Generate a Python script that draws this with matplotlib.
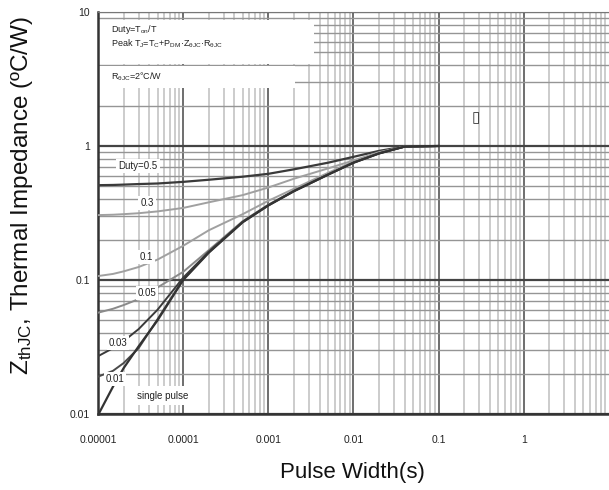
import matplotlib
matplotlib.use("Agg")
import matplotlib.pyplot as plt
from matplotlib.patches import Rectangle
from matplotlib.ticker import LogLocator, FixedLocator, NullFormatter

plt.rcParams['font.family'] = ['Liberation Sans', 'DejaVu Sans']
plt.rcParams['mathtext.fontset'] = 'custom'
plt.rcParams['mathtext.rm'] = 'Liberation Sans'
plt.rcParams['mathtext.it'] = 'Liberation Sans'
plt.rcParams['mathtext.default'] = 'rm'

# pulse width (s)
pulse = [1e-5, 1.5e-5, 2e-5, 3e-5, 5e-5, 1e-4, 2e-4, 5e-4, 1e-3, 2e-3, 5e-3, 1e-2, 2e-2, 4e-2, 1e-1]

# Zth (C/W) per duty cycle
z_d05 = [0.51, 0.512, 0.515, 0.52, 0.525, 0.54, 0.56, 0.59, 0.62, 0.67, 0.75, 0.83, 0.92, 0.99, 1.0]
z_d03 = [0.305, 0.307, 0.31, 0.315, 0.325, 0.345, 0.38, 0.43, 0.49, 0.57, 0.68, 0.78, 0.90, 0.99, 1.0]
z_d01 = [0.107, 0.111, 0.116, 0.125, 0.142, 0.18, 0.235, 0.31, 0.39, 0.48, 0.63, 0.765, 0.89, 0.99, 1.0]
z_d005 = [0.057, 0.061, 0.065, 0.072, 0.088, 0.115, 0.167, 0.275, 0.365, 0.465, 0.615, 0.755, 0.885, 0.99, 1.0]
z_d003 = [0.027, 0.031, 0.035, 0.043, 0.060, 0.104, 0.163, 0.272, 0.362, 0.462, 0.612, 0.752, 0.882, 0.99, 1.0]
z_d001 = [0.019, 0.021, 0.024, 0.031, 0.051, 0.101, 0.161, 0.27, 0.36, 0.46, 0.61, 0.75, 0.88, 0.99, 1.0]
z_single = [0.0098, 0.016, 0.022, 0.032, 0.05, 0.10, 0.16, 0.27, 0.36, 0.46, 0.61, 0.75, 0.88, 0.99, 1.0]

x_ticks = [1e-5, 1e-4, 1e-3, 1e-2, 1e-1, 1]
x_ticklabels = ['0.00001', '0.0001', '0.001', '0.01', '0.1', '1']
y_ticks = [0.01, 0.1, 1, 10]
y_ticklabels = ['0.01', '0.1', '1', '10']

fig = plt.figure(figsize=(6.09, 4.90), dpi=100)
ax = fig.add_axes([98/609, 76/490, 511/609, 402/490])
ax.set_xscale('log')
ax.set_yscale('log')
ax.set_xlim(1e-5, 10)
ax.set_ylim(0.01, 10)
ax.set_axisbelow(True)

ax.xaxis.set_major_locator(FixedLocator(x_ticks))
ax.set_xticklabels(x_ticklabels)
ax.yaxis.set_major_locator(FixedLocator(y_ticks))
ax.set_yticklabels(y_ticklabels)
ax.xaxis.set_minor_locator(LogLocator(base=10, subs=range(2, 10), numticks=20))
ax.yaxis.set_minor_locator(LogLocator(base=10, subs=range(2, 10), numticks=20))
ax.xaxis.set_minor_formatter(NullFormatter())
ax.yaxis.set_minor_formatter(NullFormatter())
ax.tick_params(which='both', length=0, labelsize=7.5, colors='#222')
ax.tick_params(axis='x', pad=15)
ax.tick_params(axis='y', pad=6)

ax.xaxis.grid(True, which='major', color='#555555', lw=1.2)
ax.yaxis.grid(True, which='major', color='#444444', lw=1.6)
ax.xaxis.grid(True, which='minor', color='#c8c8c8', lw=1.3)
ax.yaxis.grid(True, which='minor', color='#959595', lw=1.0)

for s in ['left', 'bottom']:
    ax.spines[s].set_color('#333')
    ax.spines[s].set_linewidth(1.8)
ax.spines['top'].set_color('#777')
ax.spines['right'].set_visible(False)

# white areas of the scanned sheet (note boxes)
ax.add_patch(Rectangle((0, 0.870), 0.422, 0.110, transform=ax.transAxes,
                       facecolor='white', edgecolor='none', zorder=1))
ax.add_patch(Rectangle((0, 0.812), 0.386, 0.053, transform=ax.transAxes,
                       facecolor='white', edgecolor='none', zorder=1))
ax.add_patch(Rectangle((0.072, 0.022), 0.105, 0.048, transform=ax.transAxes,
                       facecolor='white', edgecolor='none', zorder=1))

ax.plot(pulse, z_d05, color='#3a3a3a', lw=1.6, zorder=3)
ax.plot(pulse, z_d03, color='#a0a0a0', lw=1.4, zorder=3)
ax.plot(pulse, z_d01, color='#a0a0a0', lw=1.4, zorder=3)
ax.plot(pulse, z_d005, color='#8a8a8a', lw=1.4, zorder=3)
ax.plot(pulse, z_d003, color='#3a3a3a', lw=1.4, zorder=3)
ax.plot(pulse, z_d001, color='#4a4a4a', lw=1.4, zorder=3)
ax.plot(pulse, z_single, color='#333333', lw=1.6, zorder=3)

box = dict(facecolor='white', edgecolor='none', pad=1.5)
lab = dict(fontsize=7, ha='center', va='center', color='#222', zorder=4, bbox=box)
ax.text(2.95e-5, 0.71, 'Duty=0.5', **lab)
ax.text(3.76e-5, 0.376, '0.3', **lab)
ax.text(3.66e-5, 0.148, '0.1', **lab)
ax.text(3.76e-5, 0.080, '0.05', **lab)
ax.text(1.72e-5, 0.0339, '0.03', **lab)
ax.text(1.58e-5, 0.0182, '0.01', **lab)
ax.text(5.8e-5, 0.0136, 'single pulse', **lab)
ax.text(0.275, 1.62, '\u25af', fontsize=11, ha='center', va='center', color='#333',
        family='DejaVu Sans', zorder=4)

note = dict(fontsize=6.5, ha='left', va='center', color='#222', transform=ax.transAxes, zorder=4)
ax.text(0.025, 0.957, 'Duty=T$_{on}$/T', **note)
ax.text(0.025, 0.920, 'Peak T$_J$=T$_C$+P$_{DM}$·Z$_{θJC}$·R$_{θJC}$', **note)
ax.text(0.025, 0.838, 'R$_{θJC}$=2°C/W', **note)

fig.text(352/609, 1 - 472/490, 'Pulse Width(s)', ha='center', va='center',
         fontsize=16, color='#111')
fig.text(22/609, 1 - 195/490, 'Z$_{thJC}$, Thermal Impedance (ºC/W)', rotation=90,
         ha='center', va='center', fontsize=17.5, color='#111')

fig.savefig('out.png', dpi=100)
